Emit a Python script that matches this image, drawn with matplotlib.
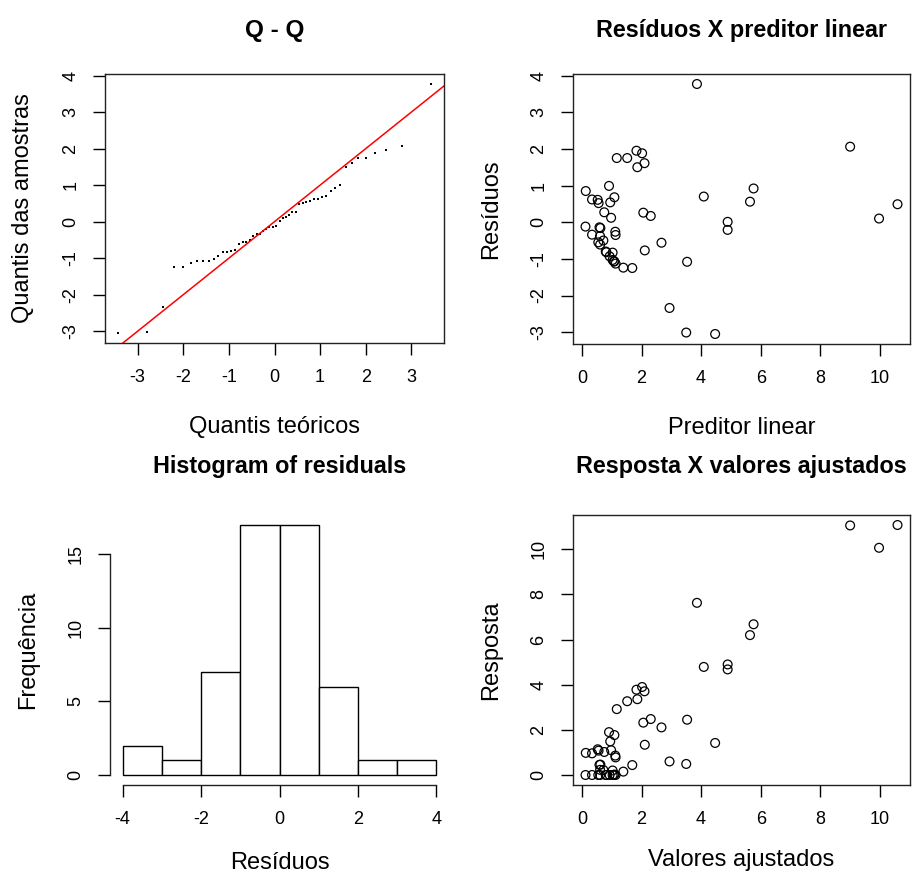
import matplotlib
matplotlib.use("Agg")
import matplotlib.pyplot as plt
import numpy as np

# Fitted values, raw residuals and observed response of the model (one entry per observation)
fitted = [4.47, 3.50, 2.94, 1.69, 1.39, 1.13, 3.53, 1.07, 1.09, 1.03, 0.93, 1.03, 0.82,
          0.80, 2.11, 0.61, 2.67, 0.55, 0.72, 0.61, 1.13, 0.34, 1.12, 4.89, 0.62, 0.59,
          0.12, 4.89, 9.97, 0.98, 2.31, 2.06, 0.75, 10.59, 0.56, 0.95, 5.64, 0.53, 0.34,
          1.09, 4.09, 0.13, 5.76, 0.91, 1.86, 2.10, 1.17, 1.52, 2.02, 1.83, 9.00, 3.86]
residuals = [-3.05, -3.01, -2.34, -1.25, -1.24, -1.13, -1.08, -1.07, -1.07, -1.03, -0.93,
             -0.83, -0.82, -0.80, -0.77, -0.61, -0.56, -0.55, -0.50, -0.38, -0.35, -0.34,
             -0.26, -0.21, -0.16, -0.14, -0.12, 0.01, 0.10, 0.12, 0.17, 0.26, 0.27, 0.49,
             0.52, 0.54, 0.56, 0.61, 0.62, 0.68, 0.70, 0.85, 0.92, 0.99, 1.50, 1.61, 1.75,
             1.75, 1.88, 1.95, 2.06, 3.77]
response = [1.42, 0.49, 0.60, 0.44, 0.15, 0.00, 2.45, 0.00, 0.02, 0.00, 0.00, 0.20, 0.00,
            0.00, 1.34, 0.00, 2.11, 0.00, 0.22, 0.23, 0.78, 0.00, 0.86, 4.68, 0.46, 0.45,
            0.00, 4.90, 10.07, 1.10, 2.48, 2.32, 1.02, 11.08, 1.08, 1.49, 6.20, 1.14, 0.96,
            1.77, 4.79, 0.98, 6.68, 1.90, 3.36, 3.71, 2.92, 3.27, 3.90, 3.78, 11.06, 7.63]

# Theoretical normal quantiles (scaled by the residual spread) for the Q-Q panel
qq_theoretical = [-3.44, -2.79, -2.45, -2.20, -2.00, -1.84, -1.69, -1.56, -1.44, -1.33,
                  -1.23, -1.13, -1.04, -0.95, -0.86, -0.78, -0.70, -0.62, -0.54, -0.47,
                  -0.39, -0.32, -0.25, -0.18, -0.11, -0.04,
                  0.04, 0.11, 0.18, 0.25, 0.32, 0.39, 0.47, 0.54, 0.62, 0.70, 0.78, 0.86,
                  0.95, 1.04, 1.13, 1.23, 1.33, 1.44, 1.56, 1.69, 1.84, 2.00, 2.20, 2.45,
                  2.79, 3.44]

hist_edges = [-4, -3, -2, -1, 0, 1, 2, 3, 4]

titles = ["Q - Q", "Resíduos X preditor linear", "Histogram of residuals",
          "Resposta X valores ajustados"]
xlabels = ["Quantis teóricos", "Preditor linear", "Resíduos", "Valores ajustados"]
ylabels = ["Quantis das amostras", "Resíduos", "Frequência", "Resposta"]

plt.rcParams["font.family"] = ["Liberation Sans", "DejaVu Sans"]
plt.rcParams["axes.unicode_minus"] = False

W, H = 914, 875
fig = plt.figure(figsize=(W / 100, H / 100), dpi=100)


def px_axes(left, top, right, bottom):
    return fig.add_axes([left / W, (H - bottom) / H, (right - left) / W, (bottom - top) / H])


def r_limits(values):
    lo, hi = min(values), max(values)
    pad = (hi - lo) * 0.04
    return lo - pad, hi + pad


TICK_FS = 13
LABEL_FS = 17
TITLE_FS = 16.8


def style(ax, title, xlabel, ylabel, xlab_off, box=True, title_fs=TITLE_FS, title_off=45):
    h_px = ax.get_position().height * H
    w_px = ax.get_position().width * W
    ax.tick_params(direction="out", length=8.5, width=1.0, pad=10,
                   labelsize=TICK_FS, top=False, right=False)
    for lab in ax.get_yticklabels():
        lab.set_rotation(90)
        lab.set_va("center")
    for sp in ax.spines.values():
        sp.set_linewidth(1.0)
        sp.set_color("#222222")
    if not box:
        ax.spines["top"].set_visible(False)
        ax.spines["right"].set_visible(False)
    ax.set_xlabel(xlabel, fontsize=LABEL_FS, va="center")
    ax.xaxis.set_label_coords(0.5, -xlab_off / h_px)
    ax.set_ylabel(ylabel, fontsize=LABEL_FS, va="center")
    ax.yaxis.set_label_coords(-82 / w_px, 0.5)
    ax.text(0.5, 1 + title_off / h_px, title, transform=ax.transAxes, ha="center",
            va="center", fontsize=title_fs, fontweight="bold")


# --- Q-Q plot ---
ax1 = px_axes(105, 74, 444, 343)
sorted_res = np.sort(residuals)
ax1.plot(qq_theoretical, sorted_res, linestyle="none", marker="s", ms=1.6,
         color="black", mew=0)
ax1.axline((0, 0), slope=1, color="red", lw=1.1)
ax1.set_xlim(*r_limits(qq_theoretical))
ax1.set_ylim(*r_limits(residuals))
ax1.set_xticks(range(-3, 4))
ax1.set_yticks(range(-3, 5))
style(ax1, titles[0], xlabels[0], ylabels[0], 84, title_fs=17.5, title_off=44)

# --- Residuals vs linear predictor ---
ax2 = px_axes(573, 74, 910, 344)
ax2.scatter(fitted, residuals, s=40, facecolors="none", edgecolors="black", linewidths=0.9)
ax2.set_xlim(*r_limits(fitted))
ax2.set_ylim(*r_limits(residuals))
ax2.set_xticks(range(0, 11, 2))
ax2.set_yticks(range(-3, 5))
style(ax2, titles[1], xlabels[1], ylabels[1], 84, title_off=44)

# --- Histogram of residuals ---
ax3 = px_axes(110, 515, 449, 785)
counts, _, _ = ax3.hist(residuals, bins=hist_edges, facecolor="white",
                        edgecolor="black", linewidth=1.0)
ax3.set_xlim(*r_limits(hist_edges))
ax3.set_ylim(*r_limits([0, max(counts)]))
ax3.set_xticks(range(-4, 5, 2))
ax3.set_yticks([0, 5, 10, 15])
ax3.spines["bottom"].set_bounds(-4, 4)
ax3.spines["left"].set_bounds(0, 15)
style(ax3, titles[2], xlabels[2], ylabels[2], 78, box=False, title_off=48)

# --- Response vs fitted values ---
ax4 = px_axes(573, 515, 910, 785)
ax4.scatter(fitted, response, s=40, facecolors="none", edgecolors="black", linewidths=0.9)
ax4.set_xlim(*r_limits(fitted))
ax4.set_ylim(*r_limits(response))
ax4.set_xticks(range(0, 11, 2))
ax4.set_yticks(range(0, 11, 2))
style(ax4, titles[3], xlabels[3], ylabels[3], 75, title_off=48)

fig.savefig("out.png", dpi=100, facecolor="white")
